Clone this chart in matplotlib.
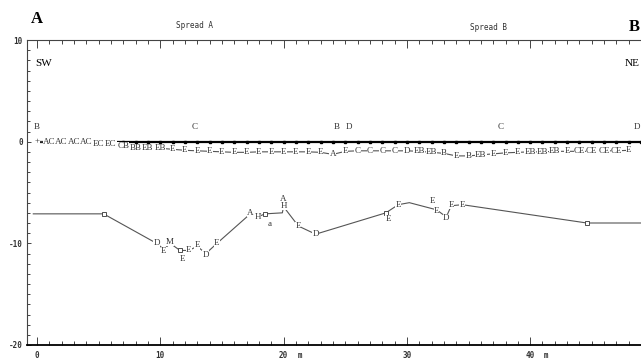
#!/usr/bin/env python3
"""Refraction section, spreads A and B"""

import matplotlib
matplotlib.use('Agg')
import matplotlib.pyplot as plt
from matplotlib.ticker import MultipleLocator
from matplotlib.transforms import blended_transform_factory

# ground surface, geophones every metre
surface_x = [0, 49.5]
surface_y = [0, 0]
geophone_x = list(range(0, 50))

# shot points above the surface
shot_x = [0, 12.8, 24.3, 25.3, 37.6, 48.7]
shot_labels = ['B', 'C', 'B', 'D', 'C', 'D']

# first refractor (depth below surface, m)
top_x = list(range(0, 49))
top_y = [0.0, -0.05, -0.05, -0.05, -0.05, -0.2, -0.25, -0.45, -0.6, -0.6,
         -0.65, -0.75, -0.85, -0.9, -0.95, -1.0, -1.05, -1.05, -1.0, -1.0,
         -1.0, -1.0, -1.0, -1.05, -1.25, -0.95, -0.9, -0.9, -0.9, -0.9,
         -0.9, -0.95, -1.05, -1.15, -1.4, -1.4, -1.3, -1.2, -1.1, -1.05,
         -1.0, -1.0, -0.95, -0.95, -0.95, -0.95, -0.9, -0.9, -0.85]
top_labels = ['+', 'AC', 'AC', 'AC', 'AC', 'EC', 'EC', 'CB', 'BB', 'EB',
              'EB', 'E', 'E', 'E', 'E', 'E', 'E', 'E', 'E', 'E',
              'E', 'E', 'E', 'E', 'A', 'E', 'C', 'C', 'C', 'C',
              'D', 'EB', 'EB', 'B', 'E', 'B', 'EB', 'E', 'E', 'E',
              'EB', 'EB', 'EB', 'E', 'CE', 'CE', 'CE', 'CE', 'E']

# second refractor line
low_x = [-0.3, 5.4, 9.7, 10.3, 10.8, 11.6, 12.3, 13.0, 13.7, 14.6, 17.3, 17.9,
         18.5, 19.9, 20.0, 21.2, 22.6, 28.3, 29.3, 30.2, 32.4, 33.2, 33.6,
         34.5, 44.6, 50.5]
low_y = [-7.1, -7.1, -10.0, -10.6, -10.0, -10.7, -10.7, -10.3, -11.0, -10.0,
         -7.1, -7.4, -7.1, -7.0, -6.4, -8.3, -9.1, -7.0, -6.2, -6.0, -6.7,
         -7.4, -6.3, -6.2, -8.0, -8.0]

# letters along the second refractor ('o' = small box)
low_lab_x = [5.4, 9.7, 10.3, 10.8, 11.6, 11.8, 12.3, 13.0, 13.7, 14.6, 17.3,
             17.9, 18.5, 18.9, 20.0, 20.0, 21.2, 22.6, 28.3, 28.5, 29.3, 32.1,
             32.4, 33.2, 33.6, 34.5, 44.6]
low_lab_y = [-7.1, -10.0, -10.8, -9.9, -10.7, -11.5, -10.7, -10.2, -11.1, -10.0,
             -7.0, -7.4, -7.1, -8.1, -5.6, -6.3, -8.3, -9.1, -7.0, -7.6, -6.2,
             -5.8, -6.8, -7.5, -6.2, -6.2, -8.0]
low_labels = ['o', 'D', 'E', 'M', 'o', 'E', 'E', 'E', 'D', 'E', 'A',
              'H', 'o', 'a', 'A', 'H', 'E', 'D', 'o', 'E', 'E', 'E',
              'E', 'D', 'E', 'E', 'o']

xtick_vals = [0, 10, 20, 30, 40]
xtick_labels = ['0', '10', '20 m', '30', '40 m']
ytick_vals = [10, 0, -10, -20]

INK = '#333333'
LETTER_FONT = dict(family='Liberation Serif', fontsize=6.5, color=INK,
                   ha='center', va='center')


def draw():
  fig = plt.figure(figsize=(6.41, 3.62), dpi=100)
  ax = fig.add_axes([27 / 641, 17 / 362, (660 - 27) / 641, 305 / 362])
  ax.set_xlim(-0.81, 50.53)
  ax.set_ylim(-20, 10)

  for side in ['left', 'top']:
    ax.spines[side].set_linewidth(0.8)
    ax.spines[side].set_color('#444444')
  ax.spines['bottom'].set_linewidth(1.3)
  ax.spines['right'].set_visible(False)

  ax.xaxis.set_major_locator(MultipleLocator(10))
  ax.xaxis.set_minor_locator(MultipleLocator(1))
  ax.yaxis.set_major_locator(MultipleLocator(10))
  ax.yaxis.set_minor_locator(MultipleLocator(1))
  ax.tick_params(which='both', direction='in', top=True, right=False,
                 color='#444444', width=0.7)
  ax.tick_params(axis='x', which='major', length=6, labelbottom=False)
  ax.tick_params(axis='x', which='minor', length=3)
  ax.tick_params(axis='y', which='major', length=3, pad=3)
  ax.tick_params(axis='y', which='minor', length=2)
  ax.set_yticks(ytick_vals)
  ax.set_yticklabels([str(v) for v in ytick_vals], family='DejaVu Sans Mono',
                     fontsize=5.5, fontweight='bold', color=INK)

  trans = blended_transform_factory(ax.transData, ax.transAxes)
  for val, lab in zip(xtick_vals, xtick_labels):
    num = lab.split(' ')[0]
    ax.text(val, -0.033, num, transform=trans, ha='center', va='center',
            family='DejaVu Sans Mono', fontsize=5.5, fontweight='bold',
            color=INK)
    if lab.endswith('m'):
      ax.text(val + 1.3, -0.033, 'm', transform=trans, ha='center',
              va='center', family='DejaVu Sans Mono', fontsize=5.5,
              fontweight='bold', color=INK)

  # ground surface with geophones
  ax.plot(surface_x, surface_y, color='black', linewidth=1.6, zorder=2)
  ax.plot(geophone_x, [0] * len(geophone_x), linestyle='none', marker='s',
          markersize=2, color='black', zorder=2)
  for sx, sl in zip(shot_x, shot_labels):
    ax.text(sx, 1.45, sl, **LETTER_FONT)

  # first refractor
  ax.plot(top_x, top_y, color='#555555', linewidth=0.8, zorder=3)
  for tx, ty, tl in zip(top_x, top_y, top_labels):
    ax.text(tx, ty, tl, zorder=4,
            bbox=dict(facecolor='white', edgecolor='none', pad=0.1),
            **LETTER_FONT)

  # second refractor
  ax.plot(low_x, low_y, color='#555555', linewidth=0.8, zorder=3)
  for lx, ly, ll in zip(low_lab_x, low_lab_y, low_labels):
    if ll == 'o':
      ax.plot([lx], [ly], linestyle='none', marker='s', markersize=2.6,
              markerfacecolor='white', markeredgecolor=INK,
              markeredgewidth=0.6, zorder=4)
    else:
      ax.text(lx, ly, ll, zorder=4,
              bbox=dict(facecolor='white', edgecolor='none', pad=0.1),
              **LETTER_FONT)

  # headings
  fig.text(37 / 641, 1 - 19 / 362, 'A', family='Liberation Serif',
           fontsize=12, fontweight='bold', ha='center', va='center')
  fig.text(634 / 641, 1 - 27 / 362, 'B', family='Liberation Serif',
           fontsize=12, fontweight='bold', ha='center', va='center')
  fig.text(195 / 641, 1 - 26 / 362, 'Spread A', family='DejaVu Sans Mono',
           fontsize=5.5, ha='center', va='center', color=INK)
  fig.text(488 / 641, 1 - 27 / 362, 'Spread B', family='DejaVu Sans Mono',
           fontsize=5.5, ha='center', va='center', color=INK)
  fig.text(35 / 641, 1 - 63 / 362, 'SW', family='Liberation Serif',
           fontsize=8, ha='left', va='center')
  fig.text(640 / 641, 1 - 63 / 362, 'NE', family='Liberation Serif',
           fontsize=8, ha='right', va='center')

  fig.savefig('out.png', dpi=100)


if __name__ == '__main__':
  draw()
